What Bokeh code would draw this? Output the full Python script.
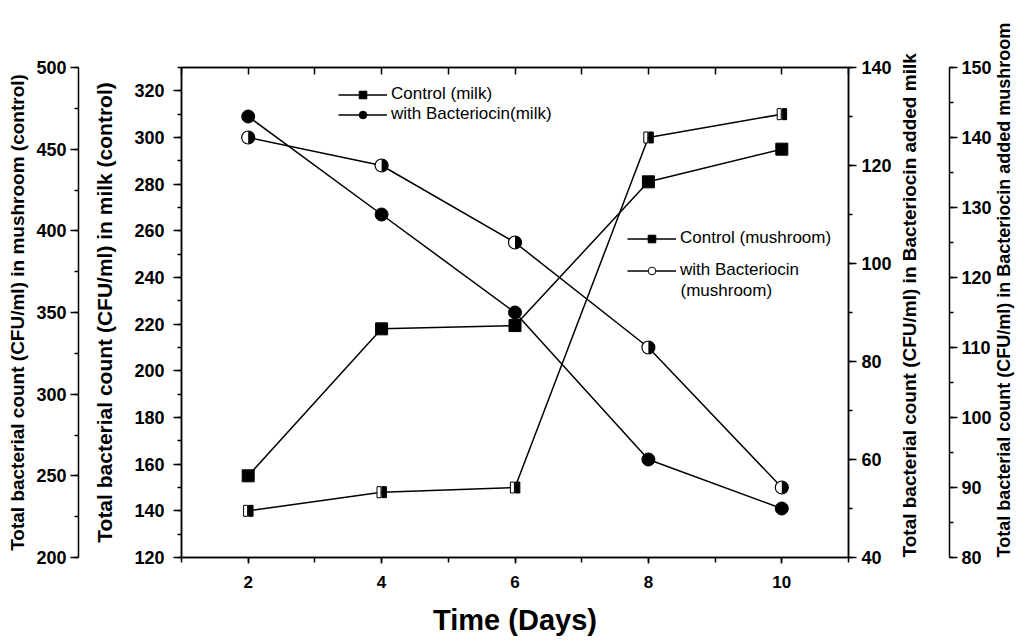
import math
from bokeh.plotting import figure
from bokeh.models import (Range1d, LinearAxis, SingleIntervalTicker, FixedTicker, Legend,
                          LegendItem, Label, CustomJSTickFormatter)
from bokeh.embed import file_html
from bokeh.resources import INLINE

# ---- data ----
days = [2, 4, 6, 8, 10]
control_milk = [140, 148, 150, 300, 310]            # left axis (milk control)
bacteriocin_milk = [130, 110, 90, 60, 50]           # right axis (bacteriocin added milk)
control_mushroom = [250, 340, 342, 430, 450]        # outer left axis (mushroom control)
bacteriocin_mushroom = [140, 136, 125, 110, 90]     # outer right axis (bacteriocin added mushroom)

series_labels = ["Control (milk)", "with Bacteriocin(milk)", "Control (mushroom)",
                 "with Bacteriocin", "(mushroom)"]
x_title = "Time (Days)"
y_titles = ["Total bacterial count (CFU/ml) in milk (control)",
            "Total bacterial count (CFU/ml) in mushroom (control)",
            "Total bacterial count (CFU/ml)  in Bacteriocin added milk",
            "Total bacterial count (CFU/ml)  in Bacteriocin added mushroom"]

FONT = "Liberation Sans"
FW, FH = 667, 490
XR = (1, 11)

p = figure(frame_width=FW, frame_height=FH, x_range=Range1d(*XR), y_range=Range1d(120, 330),
           output_backend="svg", toolbar_location=None,
           min_border_left=181, min_border_right=178, min_border_top=67, min_border_bottom=84)
p.extra_y_ranges = {"mush": Range1d(200, 500), "bmilk": Range1d(40, 140), "bmush": Range1d(80, 150)}
p.xgrid.visible = False
p.ygrid.visible = False
p.outline_line_color = "black"
p.outline_line_width = 1.5
p.background_fill_color = "white"
p.border_fill_color = "white"


def style_axis(ax, font_size="18px", title_size="19px"):
    ax.axis_line_color = "black"
    ax.axis_line_width = 1.5
    ax.major_tick_line_color = "black"
    ax.major_tick_line_width = 1.5
    ax.minor_tick_line_color = "black"
    ax.minor_tick_line_width = 1.5
    ax.major_tick_in = 0
    ax.minor_tick_in = 0
    ax.major_tick_out = 8
    ax.minor_tick_out = 4
    ax.major_label_text_font = FONT
    ax.major_label_text_font_style = "bold"
    ax.major_label_text_font_size = font_size
    ax.major_label_text_color = "black"
    ax.axis_label_text_font = FONT
    ax.axis_label_text_font_style = "bold"
    ax.axis_label_text_font_size = title_size
    ax.axis_label_text_color = "black"


def spacer(width, range_name="default"):
    ax = LinearAxis(y_range_name=range_name, ticker=FixedTicker(ticks=[]), axis_line_color=None,
                    major_tick_out=0, major_tick_in=0, minor_tick_out=0, minor_tick_in=0,
                    major_label_standoff=0, axis_label=" ", axis_label_text_font_size="1px",
                    axis_label_standoff=width)
    return ax


# bottom x axis
xax = p.xaxis[0]
xax.ticker = SingleIntervalTicker(interval=2, num_minor_ticks=2)
style_axis(xax, "17px", "29px")
xax.major_tick_out = 6
xax.minor_tick_out = 5
xax.major_label_standoff = 12
xax.axis_label = x_title
xax.axis_label_standoff = 13

# top tick-only axis
tax = LinearAxis(ticker=SingleIntervalTicker(interval=1, num_minor_ticks=0),
                 formatter=CustomJSTickFormatter(code="return ''"))
style_axis(tax)
tax.major_tick_in = 7
tax.major_tick_out = 0
tax.major_label_standoff = 0
tax.major_label_text_font_size = "1px"
p.add_layout(tax, "above")

# inner left axis (milk control)
lax = p.yaxis[0]
lax.ticker = SingleIntervalTicker(interval=20, num_minor_ticks=2)
style_axis(lax, "18px", "21px")
lax.axis_label = y_titles[0]
lax.major_label_standoff = 9
lax.axis_label_standoff = 15

p.add_layout(spacer(8), "left")

# outer left axis (mushroom control)
oax = LinearAxis(y_range_name="mush", ticker=SingleIntervalTicker(interval=50, num_minor_ticks=2))
style_axis(oax, "18px", "19px")
oax.axis_label = y_titles[1]
oax.major_label_standoff = 4
oax.axis_label_standoff = 5
p.add_layout(oax, "left")

# right axis (bacteriocin milk)
rax = LinearAxis(y_range_name="bmilk", ticker=SingleIntervalTicker(interval=20, num_minor_ticks=2))
style_axis(rax, "18px", "19px")
rax.major_label_standoff = 5
rax.axis_label = y_titles[2]
rax.axis_label_standoff = 15
p.add_layout(rax, "right")

p.add_layout(spacer(12, "bmilk"), "right")

# outer right axis (bacteriocin mushroom)
r2ax = LinearAxis(y_range_name="bmush", ticker=SingleIntervalTicker(interval=10, num_minor_ticks=2))
style_axis(r2ax, "18px", "18px")
r2ax.major_label_standoff = 4
r2ax.axis_label = y_titles[3]
r2ax.axis_label_standoff = 9
p.add_layout(r2ax, "right")

# right titles read bottom-to-top, starting at the bottom of the axis
for ax in (rax, r2ax):
    try:
        ax.axis_label_orientation = math.pi / 2
    except Exception:
        pass
    try:
        ax.axis_label_align = "start"
    except Exception:
        pass

# ---- lines ----
LW = 1.5
l_cm = p.line(days, control_milk, line_color="black", line_width=LW)
l_bm = p.line(days, bacteriocin_milk, line_color="black", line_width=LW, y_range_name="bmilk")
l_cmu = p.line(days, control_mushroom, line_color="black", line_width=LW, y_range_name="mush")
l_bmu = p.line(days, bacteriocin_mushroom, line_color="black", line_width=LW, y_range_name="bmush")

# ---- markers ----
dx = 2.6 * (XR[1] - XR[0]) / FW   # half-marker offset (screen px -> data)
p.rect([d - dx for d in days], control_milk, width=4, height=11, width_units="screen",
       height_units="screen", fill_color="white", line_color="black", line_width=1)
p.rect([d + dx for d in days], control_milk, width=4.5, height=11, width_units="screen",
       height_units="screen", fill_color="black", line_color="black", line_width=1)

p.scatter(days, bacteriocin_milk, marker="circle", size=13, fill_color="black",
          line_color="black", y_range_name="bmilk")
p.scatter(days, control_mushroom, marker="square", size=12, fill_color="black",
          line_color="black", y_range_name="mush")
p.scatter(days, bacteriocin_mushroom, marker="circle", size=13, fill_color="white",
          line_color="black", line_width=1.2, y_range_name="bmush")
p.wedge(days, bacteriocin_mushroom, radius=6.5, radius_units="screen",
        start_angle=-math.pi / 2, end_angle=math.pi / 2, fill_color="black",
        line_color=None, y_range_name="bmush")

# ---- legend dummies ----
nan = float("nan")
d_cm = p.scatter([nan], [nan], marker="square", size=5, fill_color="black", line_color="black")
d_bm = p.scatter([nan], [nan], marker="circle", size=10, fill_color="black", line_color="black")
d_cmu = p.scatter([nan], [nan], marker="square", size=8, fill_color="black", line_color="black")
d_bmu = p.scatter([nan], [nan], marker="circle", size=10, fill_color="white", line_color="black")


def mk_legend(items, x, y, spacing):
    lg = Legend(items=items, location=(x, y), orientation="vertical",
                border_line_color=None, background_fill_alpha=0, padding=0, margin=0,
                spacing=spacing, glyph_width=49, glyph_height=19, label_height=19,
                label_standoff=4, label_text_font=FONT, label_text_font_size="17px",
                label_text_color="black")
    p.add_layout(lg, "center")
    return lg


mk_legend([LegendItem(label=series_labels[0], renderers=[l_cm, d_cm]),
           LegendItem(label=series_labels[1], renderers=[l_bm, d_bm])], 157, 433, 0)
mk_legend([LegendItem(label=series_labels[2], renderers=[l_cmu, d_cmu]),
           LegendItem(label=series_labels[3], renderers=[l_bmu, d_bmu])], 446, 277, 12)
p.add_layout(Label(x=499, y=267, x_units="screen", y_units="screen", text=series_labels[4],
                   text_font=FONT, text_font_size="17px", text_color="black",
                   text_baseline="middle"))

open("out.html", "w").write(file_html(p, INLINE))
